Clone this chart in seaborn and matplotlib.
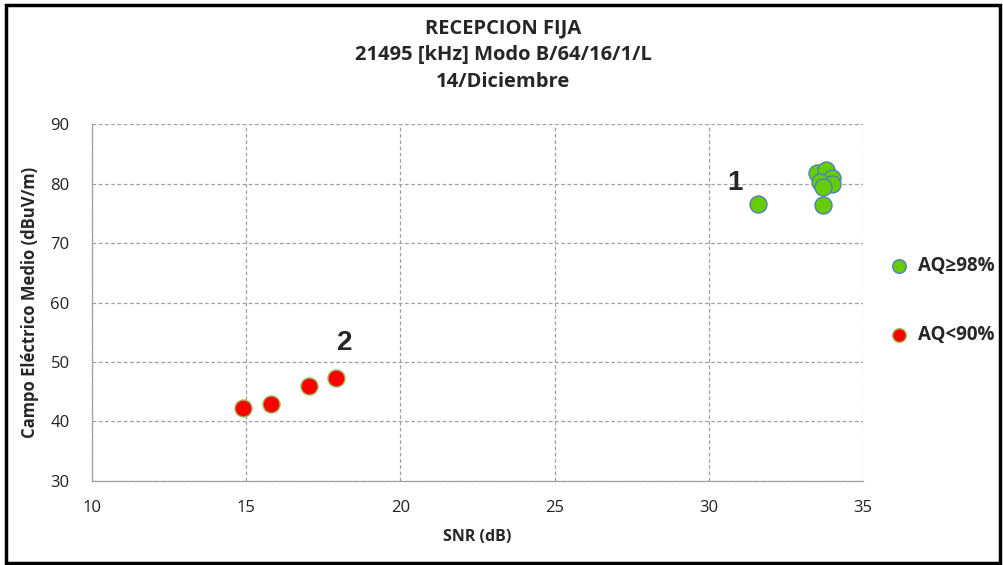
import matplotlib
matplotlib.use("Agg")
import matplotlib.pyplot as plt
import seaborn as sns
import pandas as pd
from matplotlib.patches import Rectangle

snr_green = [31.6, 33.5, 33.8, 34.0, 33.6, 34.0, 33.7, 33.7]
campo_green = [76.5, 81.8, 82.3, 81.0, 80.2, 79.9, 79.4, 76.4]
snr_red = [14.9, 15.8, 17.05, 17.9]
campo_red = [42.2, 42.9, 46.0, 47.3]
labels = ["AQ≥98%", "AQ<90%"]

df = pd.DataFrame({
    "SNR": snr_green + snr_red,
    "Campo": campo_green + campo_red,
    "Grupo": [labels[0]] * len(snr_green) + [labels[1]] * len(snr_red),
})

sns.set_theme(style="white")
plt.rcParams['font.family'] = ['Open Sans', 'DejaVu Sans']

fig = plt.figure(figsize=(10.04, 5.65), dpi=100)
ax = fig.add_axes([0.0916, 0.1487, 0.768, 0.6318])

palette = {labels[0]: "#66CC00", labels[1]: "#FF0000"}
edges = {labels[0]: "#4F81BD", labels[1]: "#9BBB59"}
for lab in labels:
    sub = df[df["Grupo"] == lab]
    sns.scatterplot(data=sub, x="SNR", y="Campo", ax=ax, color=palette[lab],
                    edgecolor=edges[lab], linewidth=1.0, s=150, label=lab, zorder=3)

ax.set_xlim(10, 35)
ax.set_ylim(30, 90)
ax.set_xticks(range(10, 36, 5))
ax.set_yticks(range(30, 91, 10))
ax.grid(True, linestyle=(0, (3, 2)), color="#A0A0A0", linewidth=0.9)
for s in ["top", "right"]:
    ax.spines[s].set_visible(False)
for s in ["left", "bottom"]:
    ax.spines[s].set_color("#A0A0A0")
    ax.spines[s].set_linewidth(0.9)
ax.tick_params(axis="x", labelsize=12, colors="#222222", length=0, pad=14)
ax.tick_params(axis="y", labelsize=12, colors="#222222", length=0, pad=16)
ax.set_xlabel("SNR (dB)", fontsize=11.5, fontweight="bold", labelpad=9)
ax.set_ylabel("Campo Eléctrico Medio (dBuV/m)", fontsize=12, fontweight="bold", labelpad=8)

ax.text(30.85, 80.1, "1", fontsize=20, fontweight="bold", family="Liberation Sans",
        ha="center", va="center")
ax.text(18.2, 53.2, "2", fontsize=20, fontweight="bold", family="Liberation Sans",
        ha="center", va="center")

fig.text(0.501, 0.968, "RECEPCION FIJA\n21495 [kHz] Modo B/64/16/1/L\n14/Diciembre",
         ha="center", va="top", fontsize=14.5, fontweight="bold", linespacing=1.45)

leg = ax.legend(loc="center left", bbox_to_anchor=(1.0, 0.505), frameon=False,
                fontsize=13.5, handletextpad=0.05, labelspacing=2.6, markerscale=0.8)
for t in leg.get_texts():
    t.set_fontweight("bold")

fig.patches.append(Rectangle((0.006, 0.004), 0.99, 0.988, transform=fig.transFigure,
                             fill=False, edgecolor="black", linewidth=2.5))

fig.savefig("out.png", dpi=100)
